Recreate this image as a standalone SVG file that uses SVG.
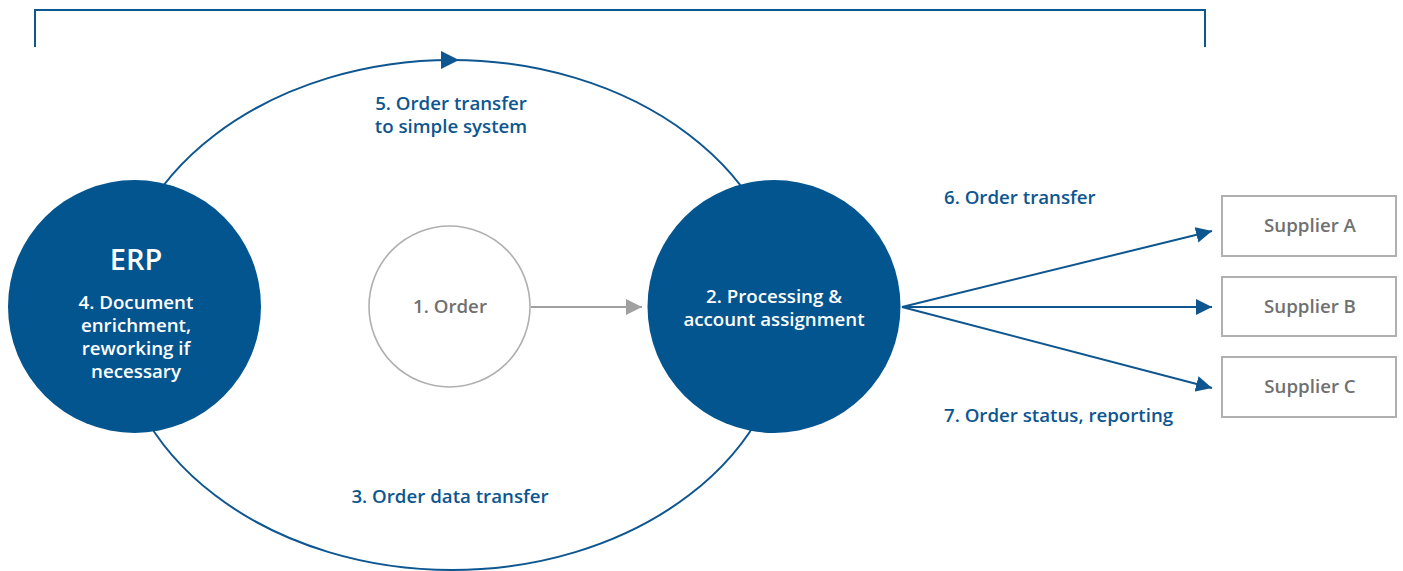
<svg xmlns="http://www.w3.org/2000/svg" width="1403" height="571" viewBox="0 0 1403 571">
<style>
.lbl{font-family:"Open Sans","Noto Sans",sans-serif;font-weight:600;font-size:18.7px;fill:#0d5690}
.wt{font-family:"Open Sans","Noto Sans",sans-serif;font-weight:600;font-size:18.7px;fill:#ffffff;text-anchor:middle}
.gt{font-family:"Open Sans","Noto Sans",sans-serif;font-weight:600;font-size:18.7px;fill:#707070;text-anchor:middle}
.big{font-size:29px}
.blue{fill:#03558f}
.conn{stroke:#0d5690;stroke-width:2;fill:none}
.box{fill:#fff;stroke:#b0b0b0;stroke-width:2}
</style>
<defs>
<marker id="ab" viewBox="0 0 10 10" refX="10" refY="5" markerWidth="16" markerHeight="16" markerUnits="userSpaceOnUse" orient="auto">
<path d="M0,0 L10,5 L0,10 z" fill="#0d5690"/>
</marker>
<marker id="ag" viewBox="0 0 10 10" refX="10" refY="5" markerWidth="16" markerHeight="16" markerUnits="userSpaceOnUse" orient="auto">
<path d="M0,0 L10,5 L0,10 z" fill="#a0a0a0"/>
</marker>
</defs>
<rect width="1403" height="571" fill="#ffffff"/>
<g id="bracket">
<path d="M35,47 V10 H1205 V47" class="conn"/>
</g>
<g id="connectors">
<ellipse cx="452" cy="315" rx="335" ry="255" class="conn"/>
<path d="M441,51 L459,60 L441,69 z" fill="#0d5690"/>
<line x1="531" y1="307" x2="642" y2="307" stroke="#a0a0a0" stroke-width="2" marker-end="url(#ag)"/>
<line x1="902" y1="307" x2="1212" y2="231" class="conn" stroke-width="1.6" marker-end="url(#ab)"/>
<line x1="902" y1="307" x2="1212" y2="307" class="conn" stroke-width="1.6" marker-end="url(#ab)"/>
<line x1="902" y1="307" x2="1212" y2="388" class="conn" stroke-width="1.6" marker-end="url(#ab)"/>
</g>
<g id="labels">
<text class="lbl" x="451" y="110" text-anchor="middle">5. Order transfer</text>
<text class="lbl" x="451" y="133" text-anchor="middle">to simple system</text>
<text class="lbl" x="450" y="503" text-anchor="middle">3. Order data transfer</text>
<text class="lbl" x="944" y="204">6. Order transfer</text>
<text class="lbl" x="944" y="422">7. Order status, reporting</text>
</g>
<g id="erp">
<circle cx="134.5" cy="306.5" r="126.5" class="blue"/>
<text class="wt big" x="136" y="270">ERP</text>
<text class="wt" x="136" y="309">4. Document</text>
<text class="wt" x="136" y="332">enrichment,</text>
<text class="wt" x="136" y="355">reworking if</text>
<text class="wt" x="136" y="378">necessary</text>
</g>
<g id="order">
<circle cx="449.5" cy="306.5" r="80.5" fill="#ffffff" stroke="#b0b0b0" stroke-width="1.6"/>
<text class="gt" x="450" y="313">1. Order</text>
</g>
<g id="processing">
<circle cx="774" cy="306.5" r="126.5" class="blue"/>
<text class="wt" x="774" y="303">2. Processing &amp;</text>
<text class="wt" x="774" y="326">account assignment</text>
</g>
<g id="supplierA">
<rect x="1222" y="196" width="174" height="60" class="box"/>
<text class="gt" x="1310" y="232">Supplier A</text>
</g>
<g id="supplierB">
<rect x="1222" y="277" width="174" height="59" class="box"/>
<text class="gt" x="1310" y="313">Supplier B</text>
</g>
<g id="supplierC">
<rect x="1222" y="357" width="174" height="60" class="box"/>
<text class="gt" x="1310" y="393">Supplier C</text>
</g>
</svg>
